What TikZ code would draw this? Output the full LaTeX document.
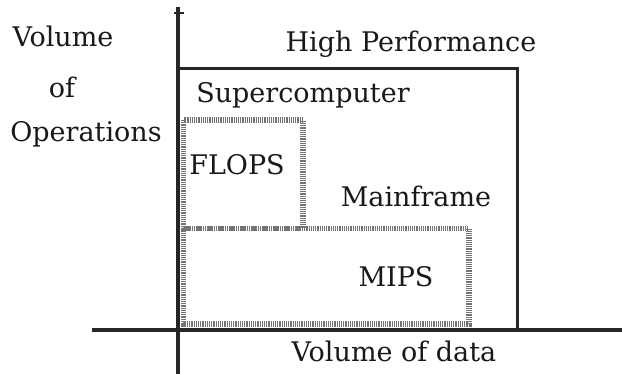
\documentclass[tikz,border=0pt]{standalone}
\usepackage{fontspec}
\setmainfont{DejaVu Serif}
\begin{document}
\begin{tikzpicture}[x=1pt,y=-1pt,
  lbl/.style={font=\fontsize{27}{30}\selectfont, inner sep=0pt, anchor=base, text=black!90},
  axis/.style={line width=4pt, black!85},
  hpbox/.style={line width=3pt, black!85},
  grid/.style={line width=5.5pt, black!55, dash pattern=on 1.2pt off 1pt}]
\useasboundingbox[fill=white] (0,0) rectangle (622,374);
% coordinates
\coordinate (ytop) at (178,7);
\coordinate (ybot) at (178,374);
\coordinate (xl) at (92,330);
\coordinate (xr) at (622,330);
\coordinate (tl) at (174,13);
\coordinate (tr) at (184,13);
% high performance box
\draw[hpbox] (178,69) rectangle (517.5,330);
% FLOPS and MIPS boxes
\draw[grid] (183.5,120) rectangle (303,228.5);
\draw[grid] (183.5,228.5) rectangle (469,324);
% axes
\draw[axis] (ytop) -- (ybot);
\draw[axis] (xl) -- (xr);
\draw[line width=1.5pt, black!85] (tl) -- (tr);
% labels
\node[lbl] (hp) at (411,52) {High Performance};
\node[lbl] (sc) at (303,103) {Supercomputer};
\node[lbl] (fl) at (237,175) {FLOPS};
\node[lbl] (mf) at (416,207) {Mainframe};
\node[lbl] (mi) at (396,287) {MIPS};
\node[lbl] (vd) at (394,362) {Volume of data};
\node[lbl] (v1) at (63,47) {Volume};
\node[lbl] (v2) at (62,98) {of};
\node[lbl] (v3) at (86,142) {Operations};
\end{tikzpicture}
\end{document}
